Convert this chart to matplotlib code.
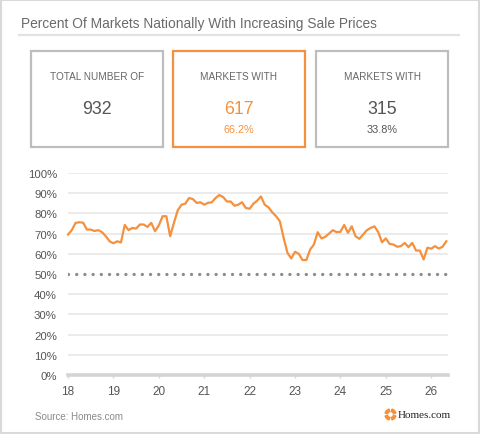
import matplotlib
matplotlib.use('Agg')
import matplotlib.pyplot as plt
from matplotlib.patches import Rectangle, Wedge
import numpy as np

plt.rcParams['font.family'] = ['Liberation Sans', 'DejaVu Sans']

# monthly share of markets with increasing sale prices (%), from Jan 2018
pct_rising = [
    69.5, 71.7, 75.3, 75.6, 75.4, 72.0, 72.0, 71.3, 71.7, 70.7, 68.7, 66.2,
    65.2, 66.2, 65.6, 74.3, 71.7, 72.8, 72.5, 74.5, 74.5, 73.3, 75.3, 71.2,
    74.0, 78.6, 78.6, 68.7, 75.3, 81.5, 84.3, 84.8, 87.6, 87.1, 85.2, 85.5,
    84.3, 85.2, 85.5, 87.6, 89.1, 88.1, 85.9, 85.9, 83.8, 84.3, 85.5, 82.7,
    82.3, 84.8, 86.3, 88.4, 84.3, 83.0, 80.5, 78.6, 76.1, 67.9, 60.5, 57.7,
    61.0, 60.0, 56.9, 56.9, 62.1, 64.6, 70.7, 67.6, 68.4, 70.0, 71.7, 70.7,
    70.9, 74.3, 70.4, 73.6, 68.7, 67.4, 69.5, 71.7, 72.8, 73.6, 70.7, 65.7,
    67.6, 64.9, 64.6, 63.5, 63.8, 65.4, 63.3, 65.4, 61.6, 61.6, 57.2, 63.0,
    62.5, 63.8, 62.6, 63.5, 66.2,
]
start_year = 18
year_ticks = [18, 19, 20, 21, 22, 23, 24, 25, 26]
pct_ticks = [0, 10, 20, 30, 40, 50, 60, 70, 80, 90, 100]
reference_level = 50

card_titles = ['TOTAL NUMBER OF', 'MARKETS WITH', 'MARKETS WITH']
card_values = ['932', '617', '315']
card_shares = ['', '66.2%', '33.8%']

title = 'Percent Of Markets Nationally With Increasing Sale Prices'
source = 'Source: Homes.com'

ORANGE = '#f5913e'
GRAY_TXT = '#666666'

W, H = 480, 435
fig = plt.figure(figsize=(W / 100, H / 100), dpi=100)
fig.patch.set_facecolor('white')

# overlay in pixel coordinates for the card layout
deco = fig.add_axes([0, 0, 1, 1])
deco.set_xlim(0, W)
deco.set_ylim(H, 0)
deco.axis('off')

deco.add_patch(Rectangle((1, 1), W - 2, H - 2, fill=False, ec='#d9d9d9', lw=1.5))
deco.text(21, 24, title, fontsize=9.9, color='#6a6a6a', va='center', ha='left')
deco.plot([19, 459], [35.5, 35.5], color='#e3e3e3', lw=1.6)

card_x = [31, 173, 316]
card_w = 132
for i, (t, v, s) in enumerate(zip(card_titles, card_values, card_shares)):
    hl = i == 1
    ec = ORANGE if hl else '#bdbdbd'
    tc = ORANGE if hl else '#555555'
    deco.add_patch(Rectangle((card_x[i], 52), card_w, 96, fill=False, ec=ec, lw=1.6))
    cx = card_x[i] + card_w / 2
    deco.text(cx, 77, t, fontsize=7.2, color=GRAY_TXT, ha='center', va='center')
    deco.text(cx, 110, v, fontsize=12.8, color=tc, ha='center', va='center')
    if s:
        deco.text(cx, 130, s, fontsize=7.8, color=tc, ha='center', va='center')

deco.text(35, 417, source, fontsize=7, color='#8a8a8a', ha='left', va='center')

# logo: four orange segments around a ring
for k in range(4):
    a0 = 90 * k + 15
    deco.add_patch(Wedge((390.5, 415.5), 5.6, a0, a0 + 60, width=2.6, color=ORANGE))
deco.text(398, 415.5, 'Homes.com', fontsize=8, family='Liberation Serif',
          color='#222222', ha='left', va='center')

# line chart
ax = fig.add_axes([68 / W, 1 - 376 / H, (448 - 68) / W, (376 - 174) / H])
x = start_year + np.arange(len(pct_rising)) / 12
ax.plot(x, pct_rising, color=ORANGE, lw=1.6, zorder=3, clip_on=False)
ax.axhline(reference_level, color='#8c8c8c', lw=2.4,
           linestyle=(0, (0.01, 2.45)), dash_capstyle='round', zorder=2)

ax.set_xlim(start_year, 26.37)
ax.set_ylim(0, 100)
ax.set_yticks(pct_ticks)
ax.set_yticklabels([f'{p}%' for p in pct_ticks])
ax.set_xticks(year_ticks)
ax.set_xticklabels([str(y) for y in year_ticks])
for p in pct_ticks[1:]:
    if p != reference_level:
        ax.axhline(p, color='#e8e8e8', lw=1.2, zorder=1)
ax.axhline(0, color='#d4d4d4', lw=2.6, zorder=1, clip_on=False)

for s in ax.spines.values():
    s.set_visible(False)
ax.tick_params(axis='y', length=0, pad=8, labelsize=8.2, labelcolor='#555555')
ax.tick_params(axis='x', length=2, width=1, color='#d4d4d4', pad=5.5,
               labelsize=8.5, labelcolor='#555555')
ax.set_facecolor('none')

fig.savefig('out.png', dpi=100, facecolor='white')
